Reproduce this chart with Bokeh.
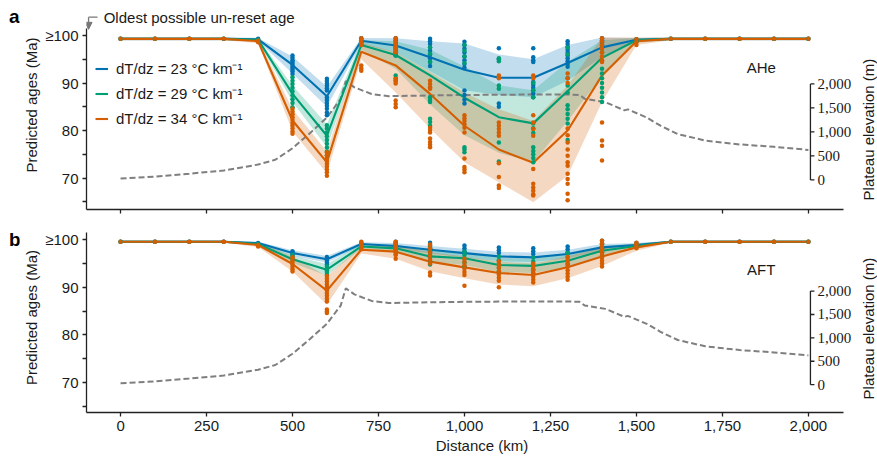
import numpy as np
from bokeh.plotting import figure
from bokeh.layouts import column, row
from bokeh.models import (Range1d, FixedTicker, NumeralTickFormatter, Legend, LegendItem,
                          Label, LabelSet, ColumnDataSource, Arrow, NormalHead, Div)
from bokeh.embed import file_html
from bokeh.resources import INLINE

# ---------------- data ----------------
DIST = list(range(0, 2001, 100))
X_TICKS = [0, 250, 500, 750, 1000, 1250, 1500, 1750, 2000]
Y_TICKS = [70, 80, 90, 100]
Y_MINOR = [65, 75, 85, 95]
ELEV_TICKS = [0, 500, 1000, 1500, 2000]
ELEV_LABELS = ["0", "500", "1,000", "1,500", "2,000"]
SERIES_LABELS = ["dT/dz = 23 °C km⁻¹", "dT/dz = 29 °C km⁻¹", "dT/dz = 34 °C km⁻¹"]
COLORS = ["#0072B2", "#009E73", "#D55E00"]

# plateau elevation profile (m)
ELEV_DIST = [0, 100, 200, 300, 400, 450, 500, 550, 600, 640, 655, 680, 730, 780, 900, 1000,
             1100, 1200, 1300, 1335, 1350, 1410, 1465, 1475, 1530, 1570, 1620, 1700, 1800, 1900, 2000]
ELEV_M = [30, 70, 130, 195, 320, 420, 660, 970, 1300, 1690, 2060, 1930, 1790, 1745, 1760, 1770,
          1775, 1780, 1780, 1770, 1690, 1620, 1450, 1470, 1300, 1130, 955, 820, 740, 690, 625]

# ---- panel a: AHe mean ages (Ma) ----
AHE_23 = [99.3, 99.3, 99.3, 99.3, 99.2, 93.8, 87.2, 98.9, 97.9, 95.4, 92.8, 91.1, 91.1, 94.2, 97.5, 99.1, 99.3, 99.3, 99.3, 99.3, 99.3]
AHE_29 = [99.3, 99.3, 99.3, 99.3, 99.1, 87.7, 78.9, 98.0, 95.9, 91.6, 86.9, 82.8, 81.5, 88.3, 95.3, 99.0, 99.3, 99.3, 99.3, 99.3, 99.3]
AHE_34 = [99.3, 99.3, 99.3, 99.3, 98.8, 82.1, 73.3, 96.6, 93.7, 87.7, 81.0, 76.0, 73.2, 80.0, 91.6, 98.8, 99.3, 99.3, 99.3, 99.3, 99.3]
AHE_23_LO = [99.0, 99.0, 99.0, 99.0, 98.9, 92.0, 85.0, 98.2, 96.4, 92.5, 88.5, 87.5, 87.0, 90.5, 95.5, 98.7, 99.0, 99.0, 99.0, 99.0, 99.0]
AHE_23_HI = [99.6, 99.6, 99.6, 99.6, 99.5, 95.6, 89.2, 99.5, 99.4, 98.8, 98.3, 96.0, 95.0, 98.0, 99.6, 99.5, 99.6, 99.6, 99.6, 99.6, 99.6]
AHE_29_LO = [99.0, 99.0, 99.0, 99.0, 98.8, 86.0, 76.5, 97.0, 93.0, 85.5, 79.0, 75.3, 73.3, 82.0, 91.5, 98.5, 99.0, 99.0, 99.0, 99.0, 99.0]
AHE_29_HI = [99.6, 99.6, 99.6, 99.6, 99.4, 89.5, 81.3, 99.0, 98.8, 97.0, 93.5, 89.5, 88.5, 94.5, 99.0, 99.5, 99.6, 99.6, 99.6, 99.6, 99.6]
AHE_34_LO = [99.0, 99.0, 99.0, 99.0, 98.4, 79.8, 71.0, 95.0, 88.0, 80.4, 73.3, 69.1, 64.9, 70.5, 86.0, 98.0, 99.0, 99.0, 99.0, 99.0, 99.0]
AHE_34_HI = [99.6, 99.6, 99.6, 99.6, 99.2, 84.5, 75.6, 98.5, 96.5, 92.3, 88.0, 84.5, 82.0, 89.5, 99.6, 99.6, 99.6, 99.6, 99.6, 99.6, 99.6]

AHE_PTS_23 = {
    400: [99.3, 99.1],
    500: [95.8, 95.3, 94.8, 94.4, 94.0, 93.6, 93.2, 92.8, 92.4, 91.9],
    600: [90.9, 90.4, 89.9, 89.4, 88.9, 88.4, 87.0, 86.4, 85.8, 85.2, 84.6, 83.8, 83.2],
    700: [99.4, 99.0, 98.6],
    800: [99.4, 99.0, 98.5, 98.0, 97.5, 97.0, 96.5, 95.8],
    900: [99.3, 98.8, 98.2, 97.5, 96.8, 96.0, 95.2, 94.4, 93.6],
    1000: [98.7, 98.0, 97.2, 96.4, 95.6, 94.8, 94.0, 93.2, 88.4, 87.5, 86.5, 85.7],
    1100: [97.3, 95.0, 85.7, 85.0],
    1200: [97.3, 95.4, 94.8, 94.4, 90.2, 89.6, 89.0, 88.4, 87.8, 87.0],
    1300: [98.8, 98.2, 97.6, 97.0, 96.4, 95.8, 95.2, 94.6, 94.0, 93.4],
    1400: [99.4, 99.0, 98.5, 98.0],
    1500: [99.2, 99.0],
}
AHE_PTS_29 = {
    400: [99.1],
    500: [91.2, 90.5, 89.8, 89.0, 88.2, 87.4, 86.6, 85.8, 84.9],
    600: [81.1, 80.4, 79.6, 78.8, 78.0, 77.2, 76.4, 75.6, 74.7],
    700: [99.0, 98.5, 98.0],
    800: [98.0, 97.2, 96.5, 95.8, 91.6, 91.0, 90.5],
    900: [97.5, 96.2, 94.5, 87.0, 86.5, 86.0, 82.5, 81.8, 81.0],
    1000: [98.0, 96.8, 95.6, 94.2, 76.5, 76.0, 75.4],
    1100: [95.2, 94.6, 89.5, 88.8, 77.5, 73.5],
    1200: [90.0, 88.5, 87.0, 81.5, 80.5, 79.5, 76.5, 75.7, 75.0, 74.2, 73.3],
    1300: [97.5, 96.0, 91.0, 89.5, 88.0, 85.3, 84.5, 83.5, 82.5, 81.5, 78.0],
    1400: [98.0, 96.5, 93.0, 92.0, 91.0, 90.0, 89.0, 88.0, 87.0, 86.0],
    1500: [99.1, 98.8],
}
AHE_PTS_34 = {
    400: [98.9, 98.6],
    500: [84.6, 84.0, 83.4, 82.8, 82.2, 81.6, 81.0, 80.4, 79.8, 79.3],
    600: [75.4, 74.8, 74.2, 73.6, 73.0, 72.4, 71.8, 71.2, 70.5],
    700: [99.4, 99.0, 98.5, 98.0, 93.7, 93.1, 92.6],
    800: [99.4, 98.8, 98.2, 97.6, 97.0, 96.5, 90.9, 90.4, 89.9, 86.3, 85.6, 84.9],
    900: [90.5, 89.8, 89.1, 88.8, 80.6, 80.1, 79.6, 78.3, 77.6, 77.0, 76.5],
    1000: [83.2, 82.6, 82.0, 81.3, 80.6, 79.6, 74.1, 72.3, 71.8, 71.2],
    1100: [91.6, 91.0, 81.7, 81.0, 80.3, 79.6, 78.9, 73.1, 70.2, 68.4, 67.9],
    1200: [91.6, 91.0, 83.2, 81.7, 80.3, 78.9, 71.9, 68.8, 68.0, 67.3, 66.6, 66.3],
    1300: [92.0, 91.0, 90.0, 80.4, 79.0, 77.5, 76.0, 74.7, 73.3, 72.6, 70.9, 69.8, 68.8, 66.7, 65.3],
    1400: [99.4, 98.8, 98.0, 97.2, 96.4, 95.6, 94.8, 94.4, 81.7, 77.9, 76.8, 73.7],
    1500: [99.2, 98.6, 98.0],
}

# ---- panel b: AFT mean ages (Ma) ----
AFT_23 = [99.6, 99.6, 99.6, 99.6, 99.3, 97.2, 95.9, 99.1, 98.7, 97.9, 97.2, 96.5, 96.3, 97.0, 98.4, 98.9, 99.6, 99.6, 99.6, 99.6, 99.6]
AFT_29 = [99.6, 99.6, 99.6, 99.6, 99.1, 95.9, 93.7, 98.6, 98.2, 96.5, 96.1, 94.7, 94.5, 95.6, 97.7, 98.7, 99.6, 99.6, 99.6, 99.6, 99.6]
AFT_34 = [99.6, 99.6, 99.6, 99.6, 98.9, 94.9, 89.3, 97.9, 97.5, 95.4, 94.2, 93.0, 92.6, 94.2, 96.5, 98.4, 99.6, 99.6, 99.6, 99.6, 99.6]
AFT_23_W = [0.2, 0.2, 0.2, 0.2, 0.3, 0.6, 0.7, 0.4, 0.6, 0.8, 0.9, 1.0, 1.0, 0.9, 0.7, 0.4, 0.2, 0.2, 0.2, 0.2, 0.2]
AFT_29_W = [0.2, 0.2, 0.2, 0.2, 0.3, 0.8, 1.2, 0.5, 0.8, 1.2, 1.4, 1.5, 1.5, 1.4, 1.0, 0.5, 0.2, 0.2, 0.2, 0.2, 0.2]
AFT_34_W = [0.2, 0.2, 0.2, 0.2, 0.4, 1.6, 3.0, 0.8, 1.5, 2.0, 2.3, 2.4, 2.4, 2.3, 2.0, 0.7, 0.2, 0.2, 0.2, 0.2, 0.2]

AFT_PTS_23 = {
    500: [97.6, 97.2, 96.8],
    600: [96.4, 96.0, 95.6, 95.2, 94.8],
    700: [99.4, 99.0],
    800: [99.6, 99.2, 98.8, 98.4],
    900: [99.4, 98.8, 98.2, 97.6],
    1000: [98.8, 98.2, 97.6],
    1100: [98.4, 97.8, 97.2],
    1200: [98.2, 97.6, 97.0],
    1300: [98.6, 98.0, 97.4],
    1400: [99.8, 99.2, 98.6],
    1500: [99.3, 98.8],
}
AFT_PTS_29 = {
    500: [96.8, 96.3, 95.8],
    600: [94.4, 94.0, 93.6, 93.2, 92.7],
    700: [99.0, 98.5],
    800: [98.8, 98.2, 97.6, 97.0],
    900: [98.5, 97.8, 97.0, 96.3, 95.5, 94.8],
    1000: [97.5, 96.8, 96.0, 95.2, 94.4],
    1100: [96.5, 95.7, 94.9, 94.1, 93.3],
    1200: [96.2, 95.4, 94.6, 93.8, 93.0],
    1300: [97.2, 96.4, 95.6, 94.8],
    1400: [99.0, 98.2, 97.4, 96.6],
    1500: [99.0, 98.6],
}
AFT_PTS_34 = {
    400: [98.9, 98.6],
    500: [96.3, 95.8, 95.3, 94.8, 94.3, 93.8, 93.3],
    600: [92.4, 91.8, 91.2, 90.6, 90.0, 89.4, 88.8, 88.2, 87.6, 87.0, 85.3, 84.9, 84.6],
    700: [99.6, 99.2, 98.8, 98.4, 98.0],
    800: [99.6, 99.2, 98.8, 98.4, 98.0, 97.6, 96.8, 96.0],
    900: [99.0, 98.2, 97.4, 96.6, 95.8, 95.0, 93.1, 92.5],
    1000: [96.0, 95.3, 94.6, 93.9, 93.2, 92.6, 90.3],
    1100: [95.5, 94.8, 94.1, 93.4, 92.7, 92.0, 91.4, 90.0],
    1200: [95.0, 94.3, 93.6, 92.9, 92.2, 91.6, 91.0],
    1300: [96.4, 95.7, 95.0, 94.3, 93.6, 92.9, 92.2, 91.6],
    1400: [99.8, 99.2, 98.6, 98.0, 97.4, 96.8, 96.2, 95.6, 95.0, 94.4],
    1500: [99.4, 99.0, 98.6, 98.2],
}

# ---------------- style ----------------
FONT = "Liberation Sans"
TXT = "#1a1a1a"
AXC = "#222222"
ELEV_AXIS_X = 2006
X_RANGE = (-99, 2201)       # frame runs to the canvas edge; axis line limited by bounds
X_BOUNDS = (-99, 2102)
TAG_W = 19                  # width of the strip holding the panel letters


def expand_points(mean, pts):
    xs, ys = [], []
    for i, d in enumerate(DIST):
        vals = pts.get(d, [mean[i]])
        xs += [d] * len(vals)
        ys += vals
    return xs, ys


def tag_div(letter, h, top):
    return Div(text=(f'<div style="padding:{top}px 0 0 9px;font-family:\'Liberation Sans\';'
                     f'font-size:19px;font-weight:bold;line-height:19px;color:#000;'
                     f'white-space:nowrap;">{letter}</div>'),
               width=TAG_W, height=h, margin=0)


def make_panel(y_rng, y_bounds, e0, ek, frame_h, bottom, means, los, his, pts,
               site, site_y, elev_title_y, show_xlabels):
    p = figure(frame_width=791, frame_height=frame_h,
               x_range=Range1d(*X_RANGE), y_range=Range1d(*y_rng),
               output_backend="svg", toolbar_location=None,
               min_border_left=86 - TAG_W, min_border_right=0, min_border_top=0,
               min_border_bottom=bottom)
    p.extra_y_ranges = {"elev": Range1d((y_rng[0] - e0) / ek, (y_rng[1] - e0) / ek)}
    p.xgrid.visible = False
    p.ygrid.visible = False
    p.outline_line_color = None
    p.background_fill_color = "white"
    p.border_fill_color = "white"

    # bands
    for lo, hi, c in zip(los, his, COLORS):
        p.varea(x=DIST, y1=lo, y2=hi, fill_color=c, fill_alpha=0.24)
    # elevation profile
    p.line(ELEV_DIST, ELEV_M, y_range_name="elev", line_color="#7f7f7f", line_width=2,
           line_dash="6 3")
    # mean lines
    rends = []
    for m, c in zip(means, COLORS):
        rends.append(p.line(DIST, m, line_color=c, line_width=2.1))
    # points
    for m, pt, c in zip(means, pts, COLORS):
        xs, ys = expand_points(m, pt)
        p.scatter(xs, ys, size=4.5, fill_color=c, line_color=None)

    # right elevation axis (drawn inside the plot area, as in the original)
    n = len(ELEV_TICKS)
    p.segment(x0=[ELEV_AXIS_X], y0=[ELEV_TICKS[0]], x1=[ELEV_AXIS_X], y1=[ELEV_TICKS[-1]],
              y_range_name="elev", line_color=AXC, line_width=1.3)
    p.ray(x=[ELEV_AXIS_X] * n, y=ELEV_TICKS, length=4, length_units="screen", angle=0,
          y_range_name="elev", line_color=AXC, line_width=1.3)
    src = ColumnDataSource(dict(x=[ELEV_AXIS_X] * n, y=ELEV_TICKS, t=ELEV_LABELS))
    p.add_layout(LabelSet(source=src, x="x", y="y", text="t", y_range_name="elev", x_offset=7,
                          text_baseline="middle", text_font=FONT, text_font_size="15px",
                          text_color=TXT))
    p.add_layout(Label(x=ELEV_AXIS_X, y=elev_title_y, y_range_name="elev", x_offset=58,
                       text="Plateau elevation (m)", angle=np.pi / 2, text_align="center",
                       text_baseline="middle", text_font=FONT, text_font_size="15px",
                       text_color=TXT))

    # axes
    xa = p.xaxis[0]
    ya = p.yaxis[0]
    for ax in (xa, ya):
        ax.axis_line_color = AXC
        ax.axis_line_width = 1.3
        ax.major_tick_line_color = AXC
        ax.major_tick_line_width = 1.3
        ax.minor_tick_line_color = AXC
        ax.minor_tick_line_width = 1.3
        ax.major_tick_in = 0
        ax.major_tick_out = 4
        ax.minor_tick_in = 0
        ax.major_label_text_font = FONT
        ax.major_label_text_font_size = "15px"
        ax.major_label_text_color = TXT
        ax.major_label_standoff = 4
        ax.axis_label_text_font = FONT
        ax.axis_label_text_font_size = "15px"
        ax.axis_label_text_font_style = "normal"
        ax.axis_label_text_color = TXT
    xa.bounds = X_BOUNDS
    xa.ticker = FixedTicker(ticks=X_TICKS)
    xa.minor_tick_out = 0
    xa.formatter = NumeralTickFormatter(format="0,0")
    ya.bounds = y_bounds
    ya.ticker = FixedTicker(ticks=Y_TICKS, minor_ticks=Y_MINOR)
    ya.minor_tick_out = 4
    ya.major_label_overrides = {100: "≥100"}
    ya.axis_label = "Predicted ages (Ma)"
    ya.axis_label_standoff = 2
    if show_xlabels:
        xa.axis_label = "Distance (km)"
        xa.axis_label_standoff = 3
    else:
        xa.major_label_overrides = {t: "" for t in X_TICKS}

    p.add_layout(Label(x=1863, y=site_y, text=site, text_font=FONT, text_font_size="15px",
                       text_align="center", text_baseline="middle", text_color=TXT))
    return p, rends


# panel a: frame page y 0..209, 4.75 px per Ma
pa, rends = make_panel((63.37, 107.37), (63.37, 101.47), 69.6, 20.2 / 2000, 209, 13,
                       [AHE_23, AHE_29, AHE_34], [AHE_23_LO, AHE_29_LO, AHE_34_LO],
                       [AHE_23_HI, AHE_29_HI, AHE_34_HI], [AHE_PTS_23, AHE_PTS_29, AHE_PTS_34],
                       "AHe", 93.2, 1050, False)

legend = Legend(items=[LegendItem(label=l, renderers=[r]) for l, r in zip(SERIES_LABELS, rends)],
                location=(9, 81), glyph_width=13, glyph_height=15, label_height=15,
                label_standoff=8, spacing=5, padding=0, margin=0,
                border_line_alpha=0, background_fill_alpha=0,
                label_text_font=FONT, label_text_font_size="15px", label_text_color=TXT)
pa.add_layout(legend)

# "oldest possible un-reset age" annotation with elbow arrow
pa.add_layout(Label(x=-49, y=103.8, text="Oldest possible un-reset age", text_font=FONT,
                    text_font_size="15px", text_baseline="middle", text_color=TXT))
pa.add_layout(Arrow(end=None, x_start=-67, y_start=103.85, x_end=-93, y_end=103.85,
                    line_color="#777777", line_width=1.3))
pa.add_layout(Arrow(end=NormalHead(size=7, fill_color="#777777", line_color="#777777"),
                    x_start=-93, y_start=103.85, x_end=-93, y_end=101.3,
                    line_color="#777777", line_width=1.3))

AFT_LO = [[m - w for m, w in zip(mm, ww)] for mm, ww in ((AFT_23, AFT_23_W), (AFT_29, AFT_29_W), (AFT_34, AFT_34_W))]
AFT_HI = [[m + w for m, w in zip(mm, ww)] for mm, ww in ((AFT_23, AFT_23_W), (AFT_29, AFT_29_W), (AFT_34, AFT_34_W))]

# panel b: frame page y 222..412
pb, _ = make_panel((63.64, 103.64), (63.64, 101.54), 69.5, 19.7 / 2000, 190, 47,
                   [AFT_23, AFT_29, AFT_34], AFT_LO, AFT_HI,
                   [AFT_PTS_23, AFT_PTS_29, AFT_PTS_34],
                   "AFT", 93.7, 1200, True)

layout = column(row(tag_div("a", 222, 7), pa, spacing=0),
                row(tag_div("b", 237, 8), pb, spacing=0), spacing=0)
open("out.html", "w").write(file_html(layout, INLINE))
